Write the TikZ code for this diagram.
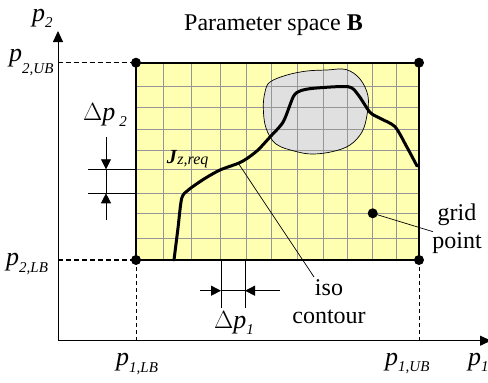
\documentclass[tikz,border=0pt]{standalone}
\usepackage{fontspec}
\setmainfont{Liberation Serif}
\usetikzlibrary{arrows.meta}
\definecolor{gridyellow}{RGB}{255,255,178}
\definecolor{gridgray}{RGB}{150,150,150}
\definecolor{blobgray}{RGB}{224,224,224}
\newcommand{\lowsub}[2]{\raisebox{#1}{\fontsize{15}{15}\selectfont\itshape #2}}
\newcommand{\pvar}{{\fontsize{26}{28}\selectfont\itshape p}}
\tikzset{
  dotnode/.style={circle,fill=black,inner sep=0pt,minimum size=10pt},
  lbl/.style={inner sep=0pt,anchor=base west,font=\fontsize{24}{27}\selectfont},
  axisline/.style={line width=0.9pt,-{Triangle[length=11pt,width=10pt]}},
  dimarrow/.style={line width=0.8pt,-{Triangle[length=10pt,width=10pt]}},
  dimline/.style={line width=0.8pt},
  thickdash/.style={line width=1.5pt,dash pattern=on 5pt off 3pt},
  thindash/.style={line width=0.8pt,dash pattern=on 4pt off 3pt},
  gridline/.style={gridgray,line width=0.9pt},
  curve/.style={line width=3pt,line join=round,line cap=round},
  leader/.style={line width=0.7pt}
}
\begin{document}
\begin{tikzpicture}[x=1pt,y=-1pt]
\useasboundingbox (0,0) rectangle (488,383);
% parameter space fill
\fill[gridyellow] (136,62.7) rectangle (419,260);
% blob fill
\fill[blobgray] plot[smooth cycle,tension=0.6] coordinates {(270,82) (287,75) (307,71) (327,70) (346,69.5) (360,79) (368,96) (367,115) (362,132) (350,145) (333,151.5) (313,154) (296,151.5) (276,144) (266,128) (263.3,108) (265,92)};
% grid
\foreach \gx in {163.3,191.7,220,246.7,271.7,297.3,323.3,347.3,372.3,396}
  \draw[gridline] (\gx,62.7) -- (\gx,260);
\foreach \gy in {86.5,107.7,129,150,169.5,193,213.3,238}
  \draw[gridline] (136,\gy) -- (419,\gy);
% blob outline
\draw[line width=0.7pt] plot[smooth cycle,tension=0.6] coordinates {(270,82) (287,75) (307,71) (327,70) (346,69.5) (360,79) (368,96) (367,115) (362,132) (350,145) (333,151.5) (313,154) (296,151.5) (276,144) (266,128) (263.3,108) (265,92)};
% iso contour curve
\draw[curve] plot[smooth,tension=0.45] coordinates {(174,260) (178,228) (181.7,198.3) (188.3,190) (204,179) (220,170) (238.3,163.3) (247,158.5) (258,150) (270,137) (283.3,121.7) (293.3,96.7) (300,91) (313.3,88.3) (348.3,86.7) (358.3,95) (370,112.3) (380,118.3) (395,126.7) (406.7,146.7) (417,166)};
% border
\draw[line width=1.8pt] (136,62.7) rectangle (419,260);
% axes
\coordinate (O) at (58,340.7);
\coordinate (xend) at (491,340.7);
\coordinate (yend) at (58,31);
\draw[axisline] (O) -- (xend);
\draw[axisline] (O) -- (yend);
% corner dots
\node[dotnode] (ul) at (136,62.7) {};
\node[dotnode] (ur) at (419,62.7) {};
\node[dotnode] (ll) at (136,260) {};
\node[dotnode] (lr) at (419,260) {};
\node[dotnode] (gp) at (372.7,213.3) {};
% dashed projections
\coordinate (yUB) at (58,62.7);
\coordinate (yLB) at (58,260);
\coordinate (xLB) at (136,340.7);
\coordinate (xUB) at (419,340.7);
\draw[thickdash] (yUB) -- (ul.center);
\draw[thickdash] (yLB) -- (ll.center);
\draw[thindash] (ll.center) -- (xLB);
\draw[thindash] (lr.center) -- (xUB);
% delta p2 dimension
\coordinate (d2a) at (88,169.3);
\coordinate (d2b) at (136,169.3);
\coordinate (d2c) at (88,193.3);
\coordinate (d2d) at (136,193.3);
\coordinate (d2top) at (106,137);
\coordinate (d2up) at (106,169.3);
\coordinate (d2lo) at (106,193.3);
\coordinate (d2bot) at (106,220);
\draw[dimline] (d2a) -- (d2b);
\draw[dimline] (d2c) -- (d2d);
\draw[dimarrow] (d2top) -- (d2up);
\draw[dimarrow] (d2bot) -- (d2lo);
\draw[dimline] (d2up) -- (d2lo);
% delta p1 dimension
\coordinate (d1a) at (221,260);
\coordinate (d1b) at (221,308);
\coordinate (d1c) at (245,260);
\coordinate (d1d) at (245,308);
\coordinate (d1left) at (200,290.7);
\coordinate (d1l) at (221,290.7);
\coordinate (d1r) at (245,290.7);
\coordinate (d1right) at (280,290.7);
\draw[dimline] (d1a) -- (d1b);
\draw[dimline] (d1c) -- (d1d);
\draw[dimarrow] (d1left) -- (d1l);
\draw[dimarrow] (d1right) -- (d1r);
\draw[dimline] (d1l) -- (d1r);
% leaders
\coordinate (isopt) at (238.3,163.3);
\coordinate (isoend) at (314,277);
\draw[leader] (isopt) -- (isoend);
\coordinate (gpend) at (433,231.7);
\draw[leader] (gp.center) -- (gpend);
% labels
\node[lbl] (title) at (184,30.7) {Parameter space \textbf{B}};
\node[lbl] (p2) at (32,21.5) {\pvar\lowsub{-6pt}{2}};
\node[lbl] (p2ub) at (9,61) {\pvar\lowsub{-12pt}{2,UB}};
\node[lbl] (p2lb) at (6,265) {\pvar\lowsub{-7pt}{2,LB}};
\node[lbl] (p1lb) at (116,365) {\pvar\lowsub{-7pt}{1,LB}};
\node[lbl] (p1ub) at (385,365) {\pvar\lowsub{-6pt}{1,UB}};
\node[lbl] (p1) at (468,365) {\pvar\lowsub{-6pt}{1}};
\node[lbl] (dp2) at (83,120) {$\Delta$\pvar\,\lowsub{-6pt}{2}};
\node[lbl] (dp1) at (214,328.3) {$\Delta$\pvar\lowsub{-6pt}{1}};
\node[lbl,font=\fontsize{20}{22}\selectfont] (jz) at (166.7,163) {\textbf{\textit{J}}\raisebox{-1pt}{\fontsize{16}{16}\selectfont\itshape z,req}};
\node[lbl,anchor=base] (iso1) at (329,295) {iso};
\node[lbl,anchor=base] (iso2) at (329,323.3) {contour};
\node[lbl,anchor=base] (gp1) at (457,220) {grid};
\node[lbl,anchor=base] (gp2) at (457,248.3) {point};
\end{tikzpicture}
\end{document}
